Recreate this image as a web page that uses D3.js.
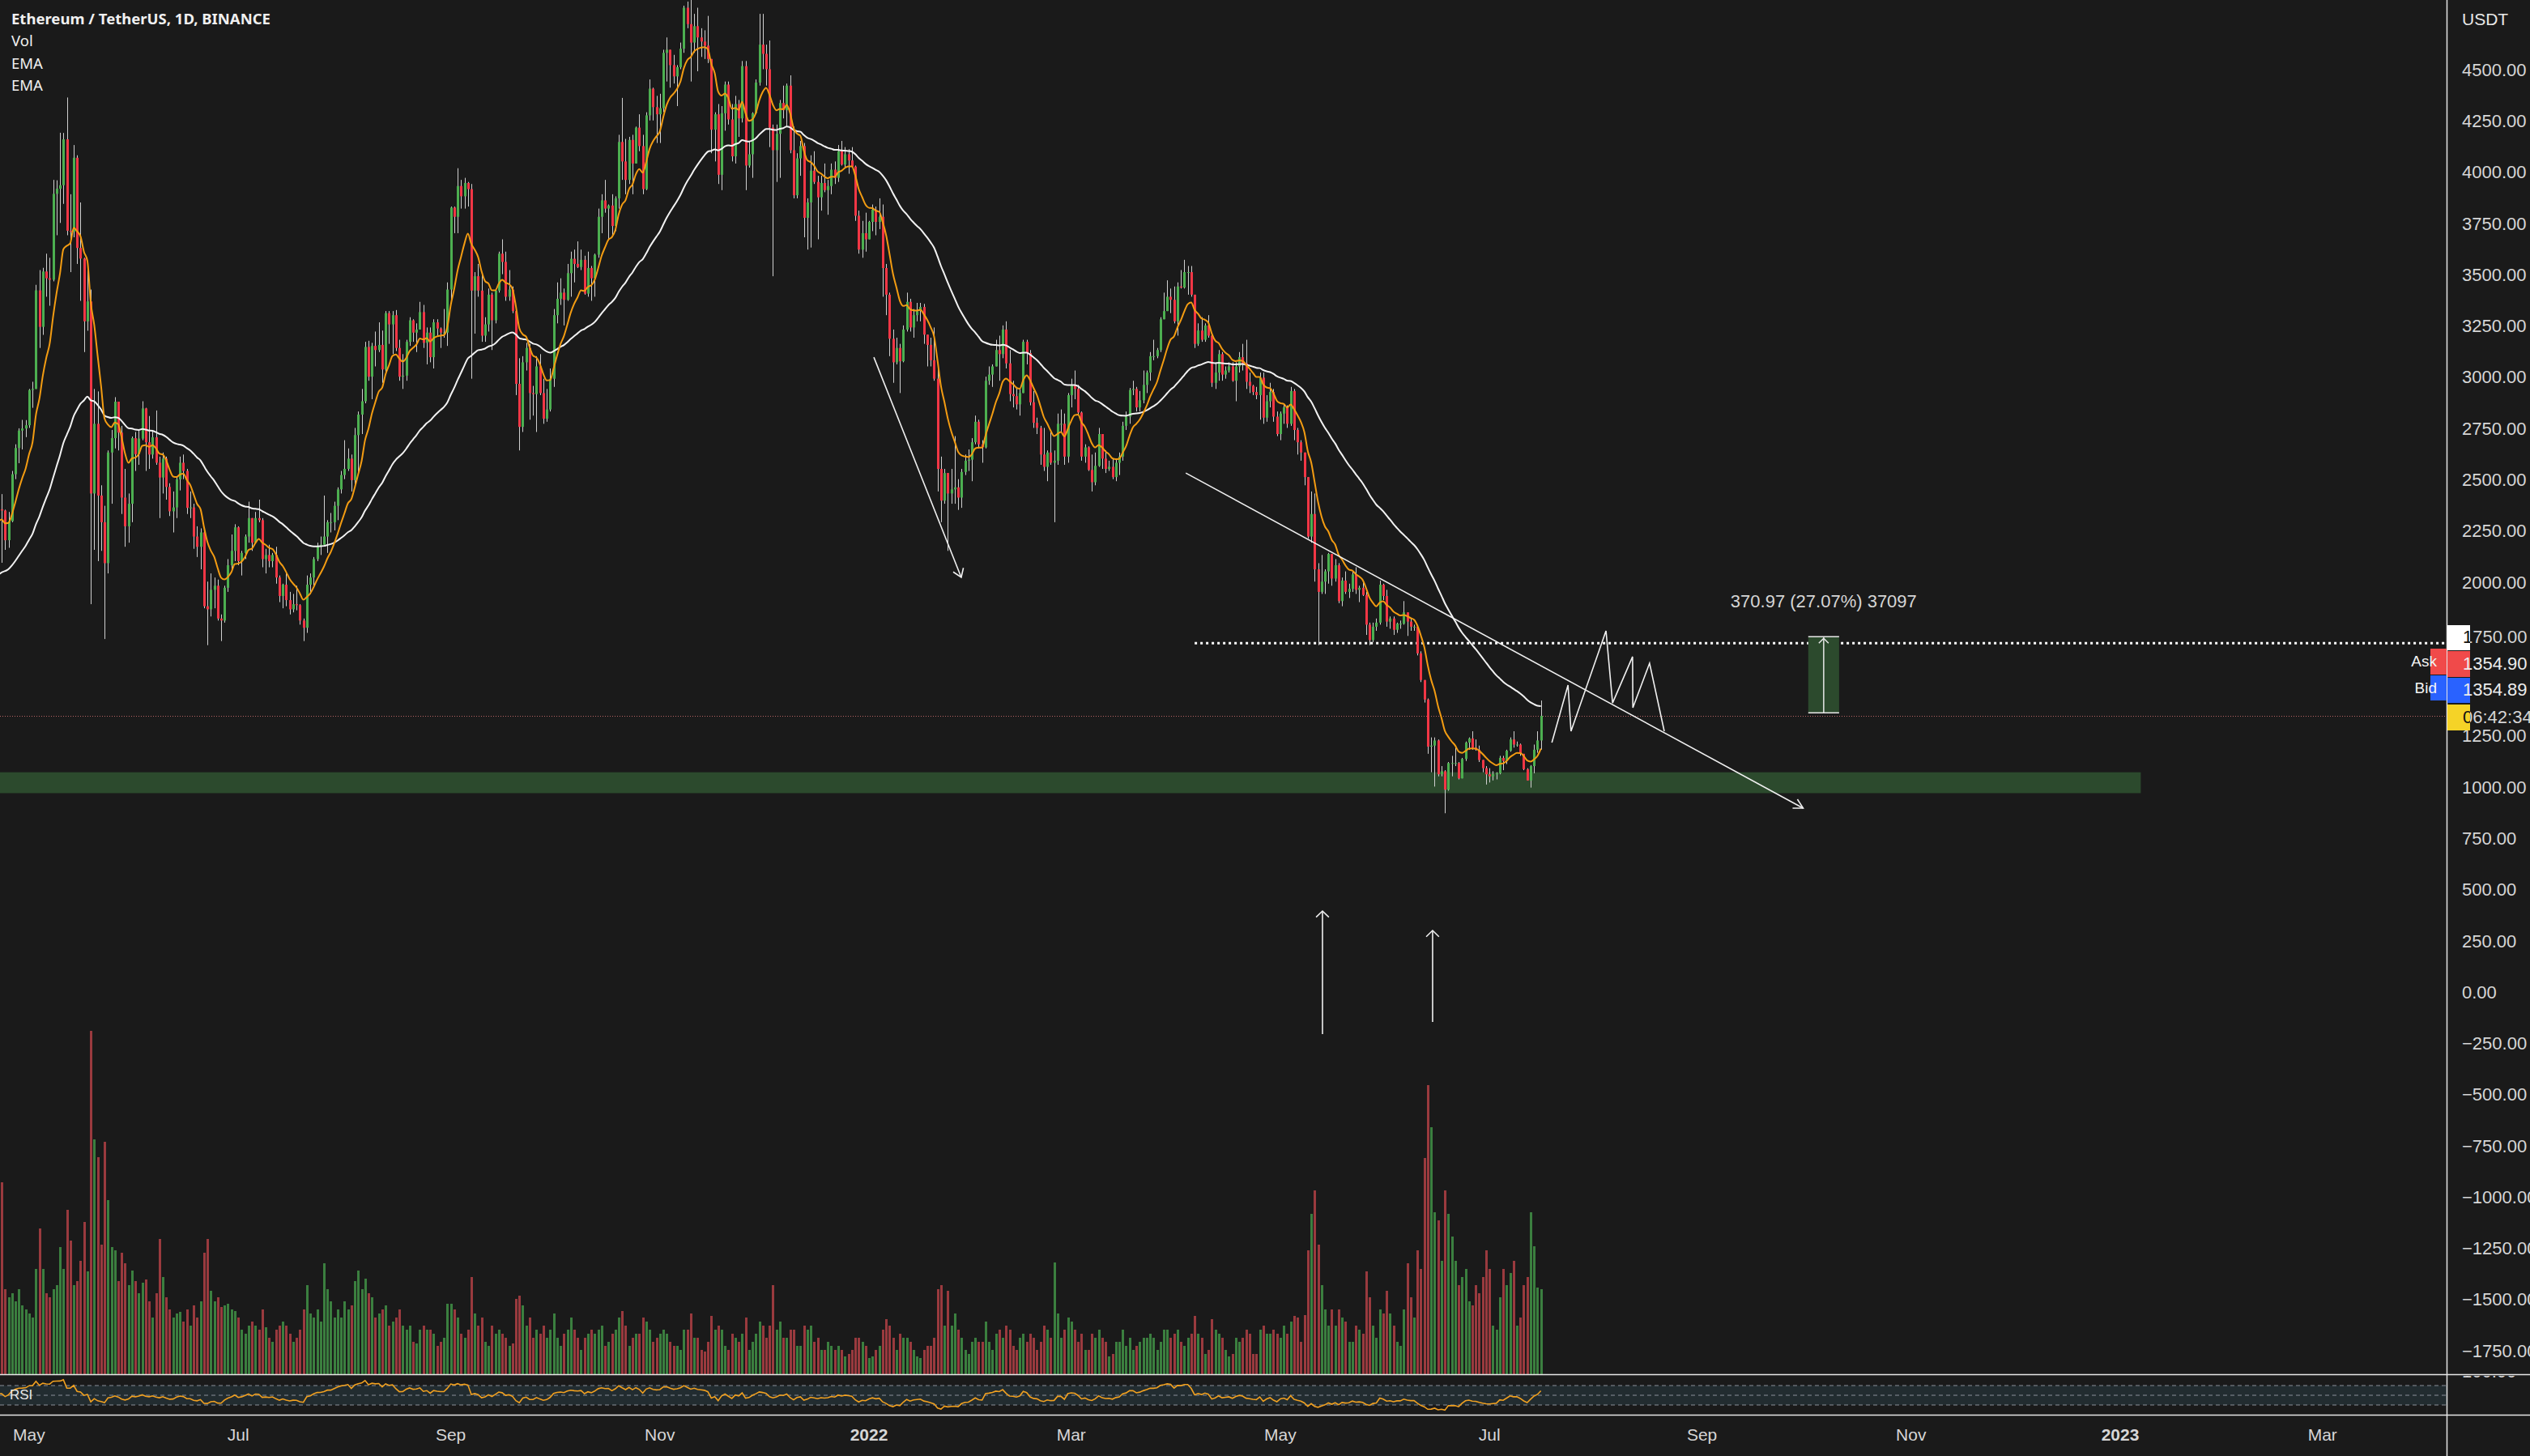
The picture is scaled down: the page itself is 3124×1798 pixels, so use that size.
<!DOCTYPE html>
<html><head><meta charset="utf-8">
<script src="https://cdn.jsdelivr.net/npm/d3@7"></script>
<style>html,body{margin:0;padding:0;background:#1a1a1a;overflow:hidden}svg{display:block}</style>
</head><body>
<svg id="c" width="3124" height="1798"></svg>
<script>
// ---------------- DATA (ETH/USDT daily, Binance) ----------------
const startDate = "2021-04-22";
const firstOpen = 2402;
const closes = [
// 2021 Apr 22-30
2363,2357,2212,2305,2534,2662,2747,2757,2773,
// May
2945,2950,3431,3253,3523,3490,3483,3902,3927,3944,4168,3722,3717,4078,3638,3586,3280,3377,2440,2780,2430,2300,2100,2640,2710,2888,2737,2420,2280,2390,2710,
// Jun
2632,2708,2855,2690,2630,2714,2590,2518,2610,2472,2353,2372,2509,2590,2550,2370,2372,2230,2180,2250,1890,1875,1970,1990,1830,1820,1980,2090,2160,2275,
// Jul
2110,2150,2230,2320,2200,2320,2310,2120,2140,2110,2140,2030,1940,1995,1920,1875,1900,1895,1820,1785,1995,2030,2120,2185,2190,2230,2300,2300,2380,2460,2530,
// Aug
2560,2610,2505,2725,2825,2890,3155,3010,3160,3140,3165,3045,3320,3265,3310,3150,3010,3015,3180,3285,3225,3240,3325,3175,3225,3105,3275,3245,3225,3225,3435,
// Sep
3835,3790,3940,3890,3955,3925,3430,3500,3430,3210,3265,3410,3285,3430,3610,3570,3400,3435,3330,2975,2765,3080,3150,2930,2925,3060,2930,2805,2850,3000,
// Oct
3310,3390,3420,3385,3515,3585,3560,3545,3580,3415,3540,3490,3605,3790,3870,3830,3845,3745,3880,4155,4060,3970,4165,4050,4225,4135,3925,4285,4415,4325,4290,
// Nov
4320,4590,4605,4530,4475,4520,4610,4810,4730,4640,4720,4665,4645,4625,4560,4215,4290,3995,4295,4435,4265,4085,4340,4270,4525,4040,4095,4295,4445,4630,
// Dec
4585,4510,4225,4115,4195,4345,4310,4430,4115,3895,4075,4135,3785,3860,4015,3960,3885,3955,3920,3940,4020,3980,4110,4045,4095,4065,4035,3795,3630,3710,3680,
// 2022 Jan
3765,3825,3765,3790,3540,3410,3195,3080,3150,3085,3240,3375,3250,3310,3330,3350,3215,3165,3090,3000,2560,2405,2540,2440,2460,2470,2420,2545,2600,2605,2690,
// Feb
2790,2680,2665,2990,3020,3060,3140,3120,3240,3075,2925,2915,2875,2930,3180,3125,2885,2785,2760,2630,2570,2640,2590,2600,2780,2780,2620,2920,
// Mar
2970,2950,2835,2620,2665,2555,2495,2575,2730,2610,2560,2570,2520,2590,2620,2770,2815,2945,2950,2860,2895,2970,3030,3110,3110,3140,3290,3330,3400,3385,3280,
// Apr
3450,3445,3520,3520,3410,3170,3235,3190,3260,3210,2980,3030,3120,3020,3040,3060,2990,3060,3105,3075,2985,2965,2935,2920,3005,2810,2890,2935,2815,2730,
// May
2830,2860,2780,2940,2750,2690,2640,2520,2230,2340,2070,1960,2010,2060,2145,2025,2090,1915,2015,1960,1975,2045,1970,1980,1945,1800,1725,1790,1810,1995,1940,
// Jun
1815,1830,1775,1805,1805,1860,1815,1790,1790,1660,1530,1435,1205,1210,1235,1070,1085,995,1125,1125,1125,1050,1145,1225,1245,1200,1190,1140,1100,1070,
// Jul 1-16
1060,1070,1075,1150,1135,1185,1240,1215,1215,1170,1095,1040,1110,1190,1235,1355
];
const highs = [
2644,2437,2361,2350,2550,2680,2758,2799,2798,
2950,2985,3458,3530,3541,3610,3590,3970,3968,4200,4199,4372,3900,4140,4090,3860,3590,3560,3435,2950,2938,2480,2380,2650,2750,2910,2884,2770,2560,2440,2718,
2740,2752,2890,2858,2818,2750,2845,2620,2640,2620,2490,2450,2520,2620,2630,2560,2450,2390,2280,2270,2270,2010,2050,2030,2020,1850,1990,2120,2240,2290,
2280,2160,2240,2400,2320,2350,2410,2320,2170,2190,2150,2180,2040,2000,2050,1960,1950,1990,1900,1830,2040,2050,2130,2200,2230,2430,2310,2345,2400,2470,2550,
2700,2660,2630,2760,2840,2950,3180,3185,3175,3230,3275,3235,3330,3330,3330,3335,3190,3120,3190,3300,3290,3270,3375,3360,3250,3250,3290,3290,3250,3340,3470,
3840,3840,4027,3970,3980,3960,3950,3520,3560,3510,3300,3440,3420,3440,3620,3680,3620,3530,3450,3350,3100,3110,3175,3170,2965,3110,3120,3000,2950,3050,
3340,3470,3490,3440,3560,3620,3630,3670,3630,3600,3620,3550,3610,3830,3900,3970,3850,3900,3890,4190,4370,4170,4180,4190,4230,4290,4190,4300,4460,4420,4380,
4390,4605,4665,4560,4580,4530,4640,4820,4840,4868,4780,4810,4710,4700,4770,4560,4300,4340,4330,4450,4450,4340,4380,4360,4550,4550,4160,4300,4460,4780,
4780,4630,4650,4240,4240,4360,4430,4440,4480,4230,4100,4160,4150,3880,4090,4110,3990,3990,4050,3970,4050,4060,4140,4160,4130,4120,4130,4040,3820,3770,3810,
3770,3850,3840,3880,3850,3560,3420,3240,3200,3170,3260,3420,3390,3340,3370,3370,3365,3210,3200,3250,3050,2620,2560,2520,2560,2720,2510,2560,2630,2655,2710,
2820,2800,2700,3010,3060,3070,3190,3210,3260,3280,3140,2990,2960,2950,3190,3190,3140,2940,2810,2770,2760,2650,2740,2650,2830,2850,2830,2930,
3000,3040,2970,2840,2680,2670,2630,2640,2760,2730,2650,2600,2610,2610,2640,2790,2840,2955,2990,2960,2940,3040,3040,3130,3190,3150,3300,3420,3480,3440,3450,
3470,3530,3580,3550,3550,3410,3270,3300,3270,3310,3220,3080,3140,3130,3060,3080,3080,3080,3130,3170,3190,3030,2970,2960,3030,3030,2920,2980,2950,2840,
2840,2880,2870,2960,2950,2760,2700,2640,2520,2450,2440,2100,2140,2070,2150,2145,2120,2100,2030,2060,2000,2060,2080,1990,2010,1960,1810,1810,1830,2015,2000,
1970,1840,1840,1810,1820,1915,1860,1830,1800,1790,1670,1530,1440,1250,1250,1240,1110,1090,1130,1160,1200,1130,1150,1230,1250,1280,1240,1210,1140,1110,
1100,1085,1080,1160,1160,1190,1250,1280,1230,1220,1170,1100,1115,1215,1280,1430
];
const lows = [
2300,2102,2165,2175,2300,2510,2588,2655,2715,
2760,2858,2950,3150,3214,3400,3356,3475,3700,3760,3853,3700,3520,3690,3560,3380,3130,3234,1900,2165,2110,2160,1730,2050,2390,2660,2650,2340,2180,2200,2300,
2550,2580,2700,2550,2560,2610,2580,2320,2440,2410,2330,2250,2320,2455,2510,2340,2320,2170,2130,2070,1880,1700,1840,1880,1820,1720,1810,1960,2060,2110,
2090,2040,2120,2200,2160,2200,2300,2080,2050,2080,2080,2000,1910,1880,1890,1850,1860,1870,1800,1720,1760,1950,1990,2110,2140,2190,2150,2250,2260,2310,2440,
2510,2550,2450,2480,2530,2730,2880,2990,2900,3060,3130,2980,3030,3170,3120,3135,2990,2950,2990,3160,3180,3130,3240,3150,3070,3080,3050,3210,3150,3200,3160,
3380,3710,3710,3830,3830,3840,3000,3220,3400,3180,3180,3230,3140,3270,3420,3510,3380,3380,3320,2920,2650,2740,3040,2800,2820,2740,2920,2780,2790,2840,
2960,3270,3360,3260,3380,3400,3470,3540,3530,3410,3400,3380,3400,3590,3710,3810,3680,3700,3720,3830,3970,3900,3950,3900,4050,4110,3900,3920,4260,4260,4150,
4150,4300,4450,4420,4440,4330,4510,4590,4710,4450,4590,4500,4570,4560,4540,4100,4060,3950,3920,4210,4240,4060,4050,4180,4250,3920,4030,3980,4290,4430,
4510,4430,4130,3500,3960,3980,4270,4230,4100,3880,3880,3990,3690,3630,3640,3950,3680,3820,3910,3800,3900,3950,3960,4040,4030,4000,4030,3770,3610,3590,3620,
3680,3720,3700,3730,3400,3310,3110,2980,3070,2930,3080,3230,3230,3200,3280,3280,3170,3060,3060,2990,2450,2300,2390,2160,2390,2390,2360,2370,2530,2550,2500,
2680,2660,2590,2660,2970,2960,3060,2990,3100,3050,2890,2860,2850,2820,2930,3070,2870,2760,2730,2580,2550,2500,2580,2300,2580,2740,2580,2590,
2860,2900,2820,2600,2590,2550,2450,2480,2570,2560,2540,2550,2510,2500,2530,2600,2750,2780,2920,2840,2840,2880,2930,2990,3090,3100,3130,3290,3330,3320,3270,
3210,3440,3440,3410,3400,3150,3160,3180,3180,3200,2960,2950,2990,2990,3000,3030,2985,2890,3030,3040,2950,2930,2920,2900,2800,2780,2790,2860,2790,2720,
2700,2780,2760,2770,2700,2630,2600,2480,2220,2200,2010,1700,1950,1950,2000,1990,2010,1905,1890,1950,1930,1960,1950,1910,1940,1750,1700,1715,1770,1800,1920,
1790,1780,1750,1760,1780,1800,1745,1770,1770,1650,1520,1420,1170,1080,1010,1060,1060,880,990,1060,1110,1045,1050,1135,1190,1190,1185,1130,1080,1020,
1030,1040,1045,1070,1090,1120,1180,1200,1205,1160,1090,1040,1005,1075,1175,1190
];
const volumes = [
180,237,105,95,100,90,105,85,80,
75,70,130,180,130,100,95,105,110,157,130,203,165,110,115,140,188,127,424,290,268,160,287,215,157,153,115,150,137,110,128,
115,100,113,117,90,70,100,167,120,95,80,70,75,77,65,80,60,85,70,90,150,167,103,90,95,83,85,87,80,78,
70,55,50,60,65,60,55,80,58,45,40,55,60,65,60,50,40,45,55,80,110,75,70,80,65,137,105,90,70,80,70,
90,80,85,115,128,105,118,100,95,70,75,80,85,60,65,70,80,60,55,60,40,38,55,60,55,55,50,35,40,45,87,
87,80,70,50,45,55,120,75,60,70,40,35,60,50,55,50,45,35,38,93,97,85,60,70,45,55,50,60,45,55,
75,45,35,50,55,70,55,45,30,45,50,55,50,55,60,35,40,50,55,70,78,60,35,45,50,50,70,65,55,40,45,
50,55,50,40,35,35,30,55,55,75,45,45,30,28,40,72,55,60,55,35,30,50,45,40,50,70,30,40,50,65,
60,45,60,110,55,65,45,45,55,55,35,35,60,55,60,40,45,30,30,40,35,30,35,30,22,25,30,45,45,40,35,
20,22,30,35,55,68,60,45,30,50,45,45,40,30,22,20,30,35,35,45,105,110,60,103,60,75,55,45,30,25,40,
45,40,40,65,40,30,50,55,45,60,55,35,30,45,50,40,50,45,30,40,60,55,45,138,75,45,55,70,
65,55,40,50,30,30,50,45,55,45,40,22,25,40,40,55,35,45,30,35,40,45,45,50,45,30,40,55,55,45,50,
55,40,35,45,50,72,50,45,25,30,68,55,50,45,30,22,25,45,40,45,55,50,25,25,55,60,50,50,55,50,
45,60,50,65,72,70,40,73,153,198,227,160,110,80,60,80,60,80,70,65,40,40,60,55,50,127,95,60,45,80,75,
103,75,60,40,35,80,137,95,70,153,130,267,357,305,200,190,140,227,198,170,140,110,120,130,90,85,110,100,120,153,
130,60,55,95,130,110,125,140,60,70,110,120,200,158,107,105
];
// indicator settings (EMA values at first bar)
const emaFastPeriod = 10, emaFastSeed = 2290;
const emaSlowPeriod = 50, emaSlowSeed = 2030;
const rsiPeriod = 14, rsiSeedGain = 55, rsiSeedLoss = 45;
// axis ticks
const priceTicks = [4500,4250,4000,3750,3500,3250,3000,2750,2500,2250,2000,1250,1000,750,500,250,0,-250,-500,-750,-1000,-1250,-1500,-1750];
const timeTicks = [["2021-05-01","May",0],["2021-07-01","Jul",0],["2021-09-01","Sep",0],["2021-11-01","Nov",0],["2022-01-01","2022",1],["2022-03-01","Mar",0],["2022-05-01","May",0],["2022-07-01","Jul",0],["2022-09-01","Sep",0],["2022-11-01","Nov",0],["2023-01-01","2023",1],["2023-03-01","Mar",0]];
const rsiLevels = [70,50,30];
// drawings
const supportBand = {from:"2021-04-01", to:"2023-01-07", low:978, high:1080};
const targetLine = {from:"2022-04-06", price:1710};
const measureBox = {from:"2022-10-02", to:"2022-10-11", low:1370.4, high:1741.4, label:"370.97 (27.07%) 37097"};
const trendLine = [["2022-04-03T10:00Z",2540],["2022-09-30T12:00Z",905]];
const downArrow = [["2022-01-02T10:00Z",3105],["2022-01-27T22:00Z",2031]];
const upArrows = [["2022-05-13T07:00Z",-198,403],["2022-06-14T10:00Z",-138,308]];
const zigzag = [["2022-07-19T05:00Z",1225],["2022-07-23T22:00Z",1505],["2022-07-24T19:00Z",1280],["2022-08-04T00:00Z",1770],["2022-08-05T22:00Z",1418],["2022-08-11T18:00Z",1644],["2022-08-11T20:00Z",1395],["2022-08-16T17:00Z",1612],["2022-08-21T00:00Z",1280]];
const priceLabels = [
  {y0:772,y1:803,fill:"#ffffff",text:"1750.00",grad:true},
  {y0:804,y1:836,fill:"#f04a4a",text:"1354.90",side:"Ask"},
  {y0:837,y1:868,fill:"#2962ff",text:"1354.89",side:"Bid"},
  {y0:870,y1:902,fill:"#f5d327",text:"06:42:34",grad:true}
];

// ---------------- LAYOUT ----------------
const W=3124, H=1798, plotR=3021, volBottom=1697, rsiTop=1698, rsiBottom=1747;
const FONT="'Liberation Sans', Arial, sans-serif";
const svg=d3.select("#c");
const P=s=>new Date(s.length<=10? s+"T00:00:00Z" : s);
const x=d3.scaleUtc().domain([P("2022-01-01"),P("2023-01-01")]).range([1073,2618]);
const y=d3.scaleLinear().domain([0,4500]).range([1227,88]);
const yR=d3.scaleLinear().domain([30,70]).range([1735,1711]);

const t0=P(startDate);
const bars=closes.map((c,i)=>{const o=i?closes[i-1]:firstOpen;
  return {t:d3.utcDay.offset(t0,i),o,c,h:Math.max(highs[i],o,c),l:Math.min(lows[i],o,c),v:volumes[i],up:c>=o};});
const yV=d3.scaleLinear().domain([0,d3.max(bars,d=>d.v)]).range([volBottom,1273]);

function ema(period, seed){const a=2/(period+1);let e=seed;return bars.map(b=>(e=a*b.c+(1-a)*e));}
const emaFast=ema(emaFastPeriod,emaFastSeed), emaSlow=ema(emaSlowPeriod,emaSlowSeed);
let ag=rsiSeedGain, al=rsiSeedLoss;
const rsi=bars.map(b=>{const ch=b.c-b.o;ag=(ag*(rsiPeriod-1)+Math.max(ch,0))/rsiPeriod;al=(al*(rsiPeriod-1)+Math.max(-ch,0))/rsiPeriod;return 100-100/(1+ag/al);});

// background
svg.append("rect").attr("width",W).attr("height",H).attr("fill","#1a1a1a");
const defs=svg.append("defs");
defs.append("clipPath").attr("id","main").append("rect").attr("x",0).attr("y",0).attr("width",plotR).attr("height",volBottom);
defs.append("clipPath").attr("id","rsi").append("rect").attr("x",0).attr("y",rsiTop+1).attr("width",plotR).attr("height",rsiBottom-rsiTop-1);
defs.append("clipPath").attr("id","rsiAxis").append("rect").attr("x",plotR+1).attr("y",rsiTop+1).attr("width",W-plotR).attr("height",rsiBottom-rsiTop-1);
const grad=defs.append("linearGradient").attr("id","lblGrad").attr("gradientUnits","userSpaceOnUse").attr("x1",3022).attr("x2",3124).attr("y1",0).attr("y2",0);
grad.append("stop").attr("offset",0).attr("stop-color","#131313");
grad.append("stop").attr("offset",(3050-3022)/102).attr("stop-color","#131313");
grad.append("stop").attr("offset",(3050-3022)/102).attr("stop-color","#d6d6d6");
grad.append("stop").attr("offset",1).attr("stop-color","#d6d6d6");

const main=svg.append("g").attr("clip-path","url(#main)");

// support band
main.append("rect").attr("x",x(P(supportBand.from))).attr("width",x(P(supportBand.to))-x(P(supportBand.from)))
  .attr("y",y(supportBand.high)).attr("height",y(supportBand.low)-y(supportBand.high)).attr("fill","#2c4a2d");

// volume
main.append("g").selectAll("rect").data(bars).join("rect")
  .attr("x",d=>Math.round(x(d.t))-1).attr("width",3)
  .attr("y",d=>yV(d.v)).attr("height",d=>volBottom-yV(d.v))
  .attr("fill",d=>d.up?"#3b7f3f":"#9a3a3e");

// current price line
const last=bars[bars.length-1];
main.append("line").attr("x1",0).attr("x2",plotR).attr("y1",Math.round(y(last.c))+0.5).attr("y2",Math.round(y(last.c))+0.5)
  .attr("stroke","#b86464").attr("stroke-width",1).attr("stroke-dasharray","1,2");
// target dotted line
main.append("line").attr("x1",x(P(targetLine.from))).attr("x2",plotR).attr("y1",y(targetLine.price)).attr("y2",y(targetLine.price))
  .attr("stroke","#ffffff").attr("stroke-width",3).attr("stroke-dasharray","3,4");

// measure box
{const x0=x(P(measureBox.from)), x1=x(P(measureBox.to)), yt=y(measureBox.high), yb=y(measureBox.low), xm=(x0+x1)/2;
 main.append("rect").attr("x",x0).attr("y",yt).attr("width",x1-x0).attr("height",yb-yt).attr("fill","#2c4a2d");
 main.append("line").attr("x1",x0).attr("x2",x1).attr("y1",yt).attr("y2",yt).attr("stroke","#e8e8e8").attr("stroke-width",1.5);
 main.append("line").attr("x1",x0).attr("x2",x1).attr("y1",yb).attr("y2",yb).attr("stroke","#e8e8e8").attr("stroke-width",1.5);
 main.append("line").attr("x1",xm).attr("x2",xm).attr("y1",yb).attr("y2",yt+1).attr("stroke","#e8e8e8").attr("stroke-width",1.5);
 main.append("path").attr("d",`M${xm-6},${yt+8}L${xm},${yt+2}L${xm+6},${yt+8}`).attr("fill","none").attr("stroke","#e8e8e8").attr("stroke-width",1.5);
 svg.append("text").attr("x",xm).attr("y",y(measureBox.high)-42).attr("text-anchor","middle").attr("dominant-baseline","middle")
  .attr("font-family",FONT).attr("font-size",22).attr("fill","#d6d6d6").text(measureBox.label);
}

// candles
const cg=main.append("g");
cg.selectAll("line").data(bars).join("line")
  .attr("x1",d=>Math.round(x(d.t))+0.5).attr("x2",d=>Math.round(x(d.t))+0.5)
  .attr("y1",d=>y(d.h)).attr("y2",d=>y(d.l)).attr("stroke","#cfcfcf").attr("stroke-width",1);
cg.selectAll("rect").data(bars).join("rect")
  .attr("x",d=>Math.round(x(d.t))-1).attr("width",3)
  .attr("y",d=>y(Math.max(d.o,d.c))).attr("height",d=>Math.max(1,Math.abs(y(d.o)-y(d.c))))
  .attr("fill",d=>d.up?"#4caf50":"#f23645");

// EMAs
const lineGen=arr=>d3.line().x((d,i)=>x(bars[i].t)).y(d=>y(d)).curve(d3.curveMonotoneX)(arr);
main.append("path").attr("d",lineGen(emaSlow)).attr("fill","none").attr("stroke","#f2f2f2").attr("stroke-width",2);
main.append("path").attr("d",lineGen(emaFast)).attr("fill","none").attr("stroke","#f39c12").attr("stroke-width",2);

// drawings
function arrowLine(g,p0,p1,len,ang){
  g.append("line").attr("x1",p0[0]).attr("y1",p0[1]).attr("x2",p1[0]).attr("y2",p1[1]).attr("stroke","#f0f0f0").attr("stroke-width",1.6);
  const a=Math.atan2(p1[1]-p0[1],p1[0]-p0[0]);
  const pts=[a+Math.PI-ang,a+Math.PI+ang].map(b=>[p1[0]+len*Math.cos(b),p1[1]+len*Math.sin(b)]);
  g.append("path").attr("d",`M${pts[0]}L${p1}L${pts[1]}`).attr("fill","none").attr("stroke","#f0f0f0").attr("stroke-width",1.6);
}
const dg=main.append("g");
arrowLine(dg,[x(P(trendLine[0][0])),y(trendLine[0][1])],[x(P(trendLine[1][0])),y(trendLine[1][1])],13,0.5);
arrowLine(dg,[x(P(downArrow[0][0])),y(downArrow[0][1])],[x(P(downArrow[1][0])),y(downArrow[1][1])],12,0.6);
upArrows.forEach(u=>arrowLine(dg,[x(P(u[0])),y(u[1])],[x(P(u[0])),y(u[2])],11,0.8));
dg.append("path").attr("d",d3.line().x(d=>x(P(d[0]))).y(d=>y(d[1]))(zigzag)).attr("fill","none").attr("stroke","#f0f0f0").attr("stroke-width",1.6);

// RSI pane
const rg=svg.append("g").attr("clip-path","url(#rsi)");
rg.append("rect").attr("x",0).attr("width",plotR).attr("y",yR(70)).attr("height",yR(30)-yR(70)).attr("fill","#222c30");
rsiLevels.forEach(l=>rg.append("line").attr("x1",0).attr("x2",plotR).attr("y1",yR(l)).attr("y2",yR(l)).attr("stroke","#8a8f99").attr("stroke-width",1).attr("stroke-dasharray","5,4"));
rg.append("path").attr("d",d3.line().x((d,i)=>x(bars[i].t)).y(d=>yR(d))(rsi)).attr("fill","none").attr("stroke","#f0a020").attr("stroke-width",1.6);
svg.append("text").attr("x",12).attr("y",1724).attr("dominant-baseline","middle").attr("font-family",FONT).attr("font-size",17).attr("fill","#e8e8e8").text("RSI");
svg.append("g").attr("clip-path","url(#rsiAxis)").append("text").attr("x",3040).attr("y",yR(100)+2).attr("dominant-baseline","middle")
  .attr("font-family",FONT).attr("font-size",22).attr("fill","#d6d6d6").text("100.00");

// separators
[[volBottom],[rsiBottom]].forEach(([yy])=>svg.append("line").attr("x1",0).attr("x2",W).attr("y1",yy+0.5).attr("y2",yy+0.5).attr("stroke","#e6e6e6").attr("stroke-width",1.5));
svg.append("line").attr("x1",plotR+0.5).attr("x2",plotR+0.5).attr("y1",0).attr("y2",H).attr("stroke","#e6e6e6").attr("stroke-width",1.5);

// price axis
svg.append("g").selectAll("text").data(priceTicks).join("text")
  .attr("x",3040).attr("y",d=>y(d)).attr("dominant-baseline","middle")
  .attr("font-family",FONT).attr("font-size",22).attr("fill","#d6d6d6").text(d=>d3.format(".2f")(d));
svg.append("text").attr("x",3040).attr("y",25).attr("dominant-baseline","middle").attr("font-family",FONT).attr("font-size",21).attr("fill","#e8e8e8").text("USDT");

// price labels on axis
priceLabels.forEach(l=>{
  svg.append("rect").attr("x",3022).attr("y",l.y0).attr("width",28).attr("height",l.y1-l.y0).attr("fill",l.fill);
  svg.append("text").attr("x",3041).attr("y",(l.y0+l.y1)/2+1).attr("dominant-baseline","middle").attr("font-family",FONT).attr("font-size",22)
    .attr("fill",l.grad?"url(#lblGrad)":"#ececec").text(l.text);
  if(l.side){
    svg.append("rect").attr("x",3001).attr("y",l.y0-3).attr("width",20).attr("height",l.y1-l.y0).attr("fill",l.fill);
    svg.append("text").attr("x",3009).attr("y",(l.y0+l.y1)/2-2).attr("text-anchor","end").attr("dominant-baseline","middle")
      .attr("font-family",FONT).attr("font-size",19).attr("fill","#f4f4f4").text(l.side);
  }
});

// time axis
svg.append("g").selectAll("text").data(timeTicks).join("text")
  .attr("x",d=>x(P(d[0]))).attr("y",1773).attr("text-anchor","middle").attr("dominant-baseline","middle")
  .attr("font-family",FONT).attr("font-size",21).attr("font-weight",d=>d[2]?"bold":"normal").attr("fill","#d6d6d6").text(d=>d[1]);

// legend
const LF="'Noto Sans', 'Open Sans', sans-serif";
svg.append("text").attr("x",14).attr("y",25).attr("dominant-baseline","middle").attr("font-family",LF).attr("font-size",18.5).attr("font-weight","bold").attr("fill","#f0f0f0").text("Ethereum / TetherUS, 1D, BINANCE");
[["Vol",52],["EMA",80],["EMA",107]].forEach(([t,yy])=>svg.append("text").attr("x",14).attr("y",yy).attr("dominant-baseline","middle").attr("font-family",LF).attr("font-size",18.5).attr("fill","#f0f0f0").text(t));
</script>
</body></html>
